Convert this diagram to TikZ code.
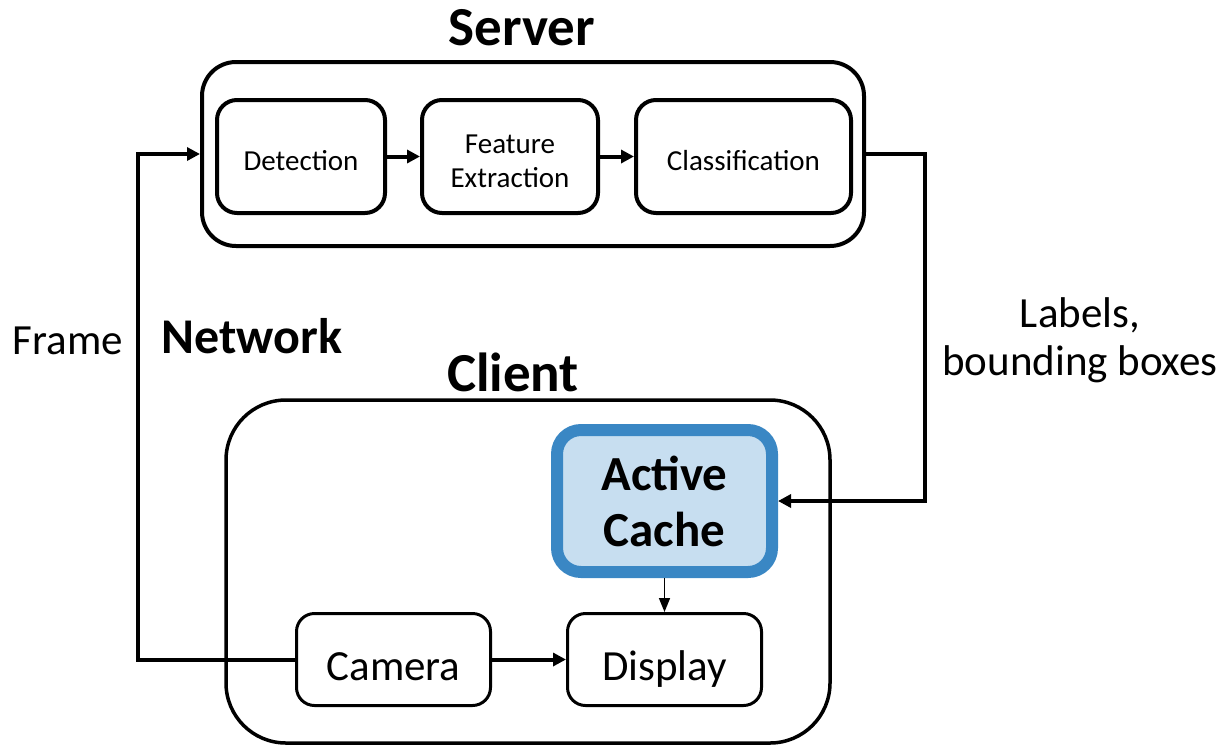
\documentclass[tikz,border=0pt]{standalone}
\usepackage{fontspec}
\setmainfont{Carlito}
\usepackage{xcolor}
\usetikzlibrary{arrows.meta, positioning, calc}

\definecolor{cacheedge}{RGB}{58,135,196}
\definecolor{cachefill}{RGB}{199,222,240}

\begin{document}
\begin{tikzpicture}[x=1pt, y=-1pt,
    group/.style={rectangle, draw=black, line width=4pt, rounded corners=34pt},
    stage/.style={rectangle, draw=black, line width=4pt, rounded corners=20pt, minimum height=113pt, align=center, font=\fontsize{29}{34}\selectfont},
    part/.style={rectangle, draw=black, line width=3pt, rounded corners=18pt, minimum width=194pt, minimum height=92pt, text height=41pt, text depth=0pt, font=\fontsize{43}{48}\selectfont},
    cachebox/.style={rectangle, draw=cacheedge, fill=cachefill, line width=12pt, rounded corners=24pt, minimum width=215pt, minimum height=142pt, align=center, font=\fontsize{49}{56}\selectfont\bfseries},
    heading/.style={font=\fontsize{55}{60}\selectfont\bfseries},
    note/.style={align=center, font=\fontsize{43}{48}\selectfont},
    link/.style={-{Triangle[length=13pt, width=13pt]}, line width=4pt},
    thinlink/.style={-{Triangle[length=14pt, width=11pt]}, line width=1.6pt},
]
    \useasboundingbox (0,0) rectangle (1225,748);

    % Server side
    \node[group, minimum width=662pt, minimum height=184pt] (srv) at (533,154) {};
    \node[heading] (srvt) at (522,28) {Server};
    \node[stage, minimum width=168pt] (det) at (301,156.5) {\rule{0pt}{28pt}Detection};
    \node[stage, minimum width=176pt] (feat) at (510,156.5) {\rule{0pt}{29pt}Feature\\Extraction};
    \node[stage, minimum width=215pt] (cls) at (743.5,156.5) {\rule{0pt}{28pt}Classification};
    \draw[link] (det) -- (feat);
    \draw[link] (feat) -- (cls);

    % Client side
    \node[group, line width=3.5pt, rounded corners=60pt, minimum width=604pt, minimum height=343pt] (cli) at (528,571.5) {};
    \node[heading] (clit) at (513,372) {Client};
    \node[cachebox] (cache) at (664.5,501) {Active\\Cache};
    \node[part] (cam) at (393.5,659.5) {Camera};
    \node[part] (disp) at (664.5,659.5) {Display};
    \draw[link] (cam) -- (disp);
    \draw[thinlink] (cache.south) -- (disp.north);

    % Network
    \node[heading, font=\fontsize{50}{55}\selectfont\bfseries] (net) at (252,336) {Network};
    \draw[link] (cam.west) -- ++(-157,0) |- (srv.west);
    \node[note] (frame) at (68,341) {Frame};
    \draw[link] (srv.east) -- ++(59,0) |- (cache.east);
    \node[note] (lbl) at (1080,340) {Labels,\\bounding boxes};
\end{tikzpicture}
\end{document}
